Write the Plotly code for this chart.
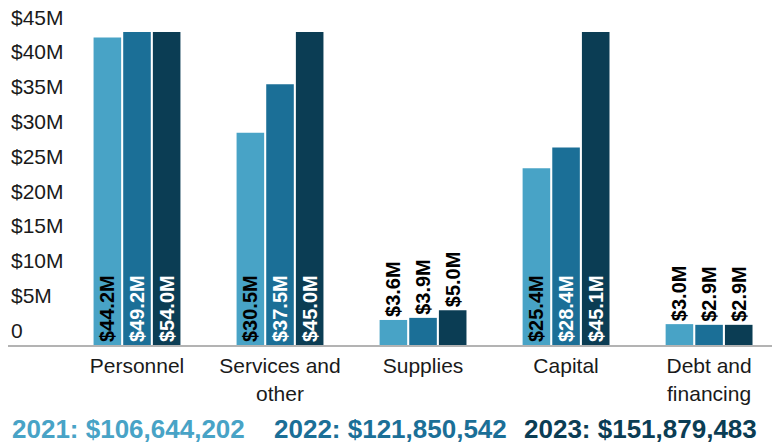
import plotly.graph_objects as go

categories = ["Personnel", "Services and<br>other", "Supplies", "Capital", "Debt and<br>financing"]
years = ["2021", "2022", "2023"]
values_2021 = [44.2, 30.5, 3.6, 25.4, 3.0]
values_2022 = [49.2, 37.5, 3.9, 28.4, 2.9]
values_2023 = [54.0, 45.0, 5.0, 45.1, 2.9]
totals = ["$106,644,202", "$121,850,542", "$151,879,483"]
colors = ["#48A3C6", "#1B6F97", "#0B3D54"]
inside_text_colors = ["#000000", "#ffffff", "#ffffff"]
tick_vals = [0, 5, 10, 15, 20, 25, 30, 35, 40, 45]
tick_text = ["0", "$5M", "$10M", "$15M", "$20M", "$25M", "$30M", "$35M", "$40M", "$45M"]

FONT = "Liberation Sans, Arial, sans-serif"

W, H = 772, 443
M_L, M_R, M_T, M_B = 8, 0, 4, 98
plot_h = H - M_T - M_B            # full plotting height (for tick labels)
bar_h = 313                       # height used by the bar axis (0..45M)
bar_top = bar_h / plot_h
y_max = 45
label_axis_max = y_max * plot_h / bar_h

fig = go.Figure()
series = [values_2021, values_2022, values_2023]
for i, vals in enumerate(series):
    fig.add_trace(go.Bar(
        x=categories,
        y=vals,
        name=years[i],
        marker=dict(color=colors[i], line=dict(width=0)),
        text=[f"${v:.1f}M" for v in vals],
        textposition=["inside" if v > 10 else "outside" for v in vals],
        insidetextanchor="start",
        textangle=-90,
        constraintext="none",
        insidetextfont=dict(family=FONT, size=20, color=inside_text_colors[i], weight="bold"),
        outsidetextfont=dict(family=FONT, size=20, color="#000000", weight="bold"),
        cliponaxis=True,
        showlegend=False,
        hoverinfo="skip",
    ))

# empty trace to carry the tick-label axis
fig.add_trace(go.Scatter(x=[categories[0]], y=[None], yaxis="y2", showlegend=False,
                         hoverinfo="skip", mode="markers"))

fig.update_layout(
    width=W, height=H,
    margin=dict(l=M_L, r=M_R, t=M_T, b=M_B),
    paper_bgcolor="white", plot_bgcolor="rgba(0,0,0,0)",
    barmode="group", bargap=0.378, bargroupgap=0.07,
    font=dict(family=FONT, size=21, color="#1a1a1a"),
    xaxis=dict(
        range=[-0.902, 4.44],
        showline=True, linecolor="#b3b3b3", linewidth=2,
        showgrid=False, ticks="", tickfont=dict(size=21, color="#1a1a1a"),
        ticklabelstandoff=1,
    ),
    yaxis=dict(
        domain=[0, bar_top],
        range=[0, y_max],
        showticklabels=False, showgrid=False, zeroline=False, showline=False, ticks="",
    ),
    yaxis2=dict(
        domain=[0, 1], anchor="x",
        range=[0, label_axis_max],
        tickvals=tick_vals, ticktext=tick_text,
        ticklabelposition="inside top",
        showgrid=False, zeroline=False, showline=False, ticks="",
        tickfont=dict(size=21, color="#1a1a1a"),
    ),
)

positions = [128, 390, 640]
for i in range(3):
    fig.add_annotation(
        x=(positions[i] - M_L) / (W - M_L - M_R), y=(H - M_B - 429) / plot_h,
        xref="paper", yref="paper",
        text=f"<b>{years[i]}: {totals[i]}</b>", showarrow=False,
        xanchor="center", yanchor="middle",
        font=dict(family=FONT, size=26, color=colors[i]),
    )

fig.write_html("out.html")
